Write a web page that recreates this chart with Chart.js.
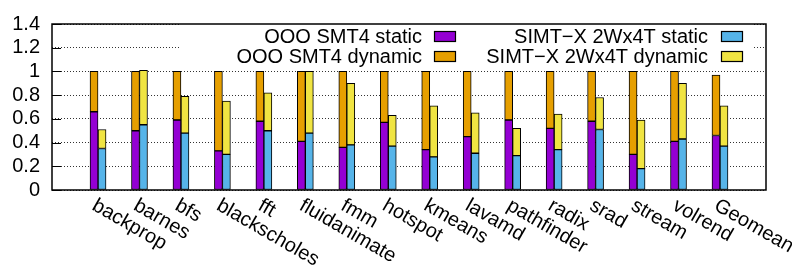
<!DOCTYPE html>
<html>
<head>
<meta charset="utf-8">
<script src="https://cdn.jsdelivr.net/npm/chart.js@4/dist/chart.umd.min.js"></script>
<style>
  html, body { margin: 0; padding: 0; background: #fff; }
  #wrap { width: 792px; height: 265px; }
</style>
</head>
<body>
<div id="wrap"><canvas id="speedChart"></canvas></div>
<script>
// benchmarks on the x axis
var benchmarks = ['backprop', 'barnes', 'bfs', 'blackscholes', 'fft', 'fluidanimate', 'fmm', 'hotspot',
  'kmeans', 'lavamd', 'pathfinder', 'radix', 'srad', 'stream', 'volrend', 'Geomean'];
// OOO SMT4 (normalised), static part and dynamic part stacked on top
var oooStatic  = [0.66, 0.50, 0.59, 0.33, 0.58, 0.41, 0.36, 0.57, 0.34, 0.45, 0.59, 0.52, 0.58, 0.30, 0.41, 0.46];
var oooDynamic = [0.34, 0.50, 0.41, 0.67, 0.42, 0.59, 0.64, 0.43, 0.66, 0.55, 0.41, 0.48, 0.42, 0.70, 0.59, 0.51];
// SIMT-X 2Wx4T
var simtStatic  = [0.35, 0.55, 0.48, 0.30, 0.50, 0.48, 0.38, 0.37, 0.28, 0.31, 0.29, 0.34, 0.51, 0.18, 0.43, 0.37];
var simtDynamic = [0.16, 0.46, 0.31, 0.45, 0.32, 0.52, 0.52, 0.26, 0.43, 0.34, 0.23, 0.30, 0.27, 0.41, 0.47, 0.34];
var yTicks = [0, 0.2, 0.4, 0.6, 0.8, 1, 1.2, 1.4];

var FONT = '"Liberation Sans", Arial, Helvetica, sans-serif';

function pts(arr) {
  return arr.map(function(v, i) { return { x: i, y: v }; });
}

function mkSet(label, arr, color, stack) {
  return {
    label: label,
    data: pts(arr),
    backgroundColor: color,
    borderColor: '#000',
    borderWidth: 1,
    borderSkipped: false,
    stack: stack
  };
}

// gnuplot style key: text right aligned, box on the right, two columns
var keyPlugin = {
  id: 'gnuKey',
  beforeDatasetsDraw: function(chart) {
    var ctx = chart.ctx;
    ctx.save();
    ctx.fillStyle = '#fff';
    ctx.fillRect(180, 24, 573, 43);
    ctx.restore();
  },
  afterDatasetsDraw: function(chart) {
    var ctx = chart.ctx;
    var sets = chart.data.datasets;
    var slots = [
      { tx: 422, bx: 434, y: 36 },
      { tx: 422, bx: 434, y: 56 },
      { tx: 708, bx: 721, y: 36 },
      { tx: 708, bx: 721, y: 56 }
    ];
    ctx.save();
    ctx.font = '20px ' + FONT;
    ctx.textAlign = 'right';
    ctx.textBaseline = 'middle';
    sets.forEach(function(ds, i) {
      var s = slots[i];
      ctx.fillStyle = '#000';
      ctx.fillText(ds.label, s.tx, s.y + 1);
      ctx.fillStyle = ds.backgroundColor;
      ctx.fillRect(s.bx, s.y - 5, 22, 10);
      ctx.lineWidth = 1.2;
      ctx.strokeStyle = '#000';
      ctx.strokeRect(s.bx + 0.5, s.y - 5 + 0.5, 21, 10);
    });
    ctx.restore();
  },
  afterDraw: function(chart) {
    var ctx = chart.ctx;
    var a = chart.chartArea;
    var xs = chart.scales.x;
    var ys = chart.scales.y;
    ctx.save();
    // inward y ticks
    ctx.strokeStyle = '#000';
    ctx.lineWidth = 1;
    yTicks.forEach(function(t) {
      var py = Math.round(ys.getPixelForValue(t)) + 0.5;
      ctx.beginPath();
      ctx.moveTo(a.left, py);
      ctx.lineTo(a.left + 9, py);
      ctx.stroke();
    });
    // frame
    ctx.lineWidth = 1.5;
    ctx.strokeRect(a.left, a.top, a.right - a.left, a.bottom - a.top);
    // rotated category labels
    ctx.font = '20px ' + FONT;
    ctx.fillStyle = '#000';
    ctx.textAlign = 'left';
    ctx.textBaseline = 'alphabetic';
    benchmarks.forEach(function(name, i) {
      var px = xs.getPixelForValue(i);
      ctx.save();
      ctx.translate(px - 7, a.bottom + 19);
      ctx.rotate(Math.PI / 6);
      ctx.fillText(name, 0, 0);
      ctx.restore();
    });
    ctx.restore();
  }
};

var chart = new Chart(document.getElementById('speedChart'), {
  type: 'bar',
  data: {
    datasets: [
      mkSet('OOO SMT4 static', oooStatic, '#9400D3', 'ooo'),
      mkSet('OOO SMT4 dynamic', oooDynamic, '#E69F00', 'ooo'),
      mkSet('SIMT\u2212X 2Wx4T static', simtStatic, '#56B4E9', 'simt'),
      mkSet('SIMT\u2212X 2Wx4T dynamic', simtDynamic, '#F0E442', 'simt')
    ]
  },
  options: {
    responsive: true,
    maintainAspectRatio: false,
    animation: false,
    barThickness: 8,
    layout: { padding: { top: 16, right: 26, left: 0, bottom: 0 } },
    plugins: {
      legend: { display: false },
      tooltip: { enabled: false }
    },
    scales: {
      x: {
        type: 'linear',
        offset: false,
        min: -1.11,
        max: 16.11,
        grid: { display: false, offset: false },
        border: { display: false },
        ticks: { display: false },
        afterFit: function(scale) { scale.height = 75; }
      },
      y: {
        stacked: true,
        min: 0,
        max: 1.4,
        afterBuildTicks: function(scale) {
          scale.ticks = yTicks.map(function(v) { return { value: v }; });
        },
        ticks: {
          autoSkip: false,
          font: { size: 20, family: FONT },
          color: '#000',
          padding: 12,
          callback: function(v) { return String(Number(v.toFixed(1))); }
        },
        grid: {
          color: '#333',
          lineWidth: 1,
          drawTicks: false
        },
        border: { display: false, dash: [1, 2] },
        afterFit: function(scale) { scale.width = 52; }
      }
    }
  },
  plugins: [keyPlugin]
});
</script>
</body>
</html>
